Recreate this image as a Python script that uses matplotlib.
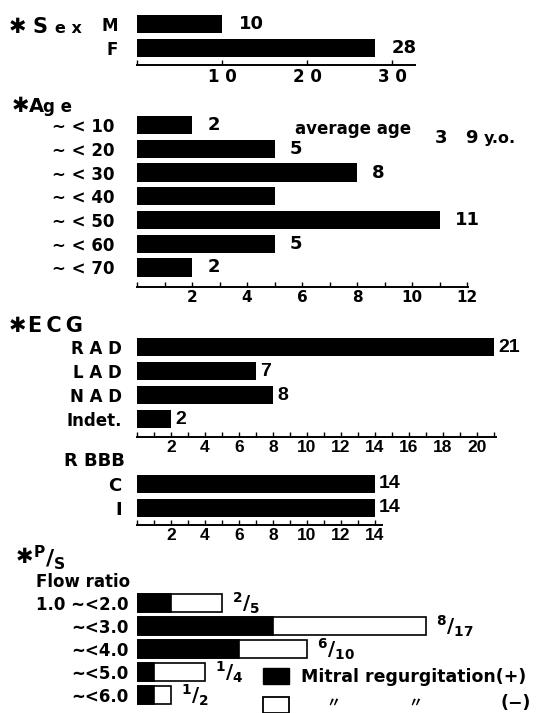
import matplotlib.pyplot as plt
from matplotlib.patches import Patch

plt.rcParams['font.family'] = ['DejaVu Sans', 'Noto Sans CJK JP']
plt.rcParams['font.weight'] = 'bold'

W, H = 536, 713
NARROW = 'Liberation Sans'

# data
sex_cats = ['M', 'F']
sex_counts = [10, 28]

age_cats = ['∼ < 10', '∼ < 20', '∼ < 30', '∼ < 40', '∼ < 50', '∼ < 60', '∼ < 70']
age_counts = [2, 5, 8, 5, 11, 5, 2]
age_shown = ['2', '5', '8', '', '11', '5', '2']

ecg_cats = ['R A D', 'L A D', 'N A D', 'Indet.']
ecg_counts = [21, 7, 8, 2]

rbbb_cats = ['C', 'I']
rbbb_counts = [14, 14]

ps_cats = ['1.0 ~<2.0', '~<3.0', '~<4.0', '~<5.0', '~<6.0']
mr_pos = [2, 8, 6, 1, 1]
ps_total = [5, 17, 10, 4, 2]

fig = plt.figure(figsize=(W / 100, H / 100), dpi=100)


def ftext(x, y, s, **kw):
    # position given in pixels from top-left
    return fig.text(x / W, 1 - y / H, s, **kw)


def panel(c0, n, yb, xmax, unit, step, x0=137):
    top = c0 - 0.6 * step
    ax = fig.add_axes([x0 / W, 1 - yb / H, xmax * unit / W, (yb - top) / H])
    ax.set_xlim(0, xmax)
    ax.set_ylim((yb - c0) / step, -0.6)
    for s in ['top', 'right', 'left']:
        ax.spines[s].set_visible(False)
    ax.spines['bottom'].set_linewidth(1.4)
    ax.tick_params(axis='x', direction='in', length=3.6, width=1, pad=2, labelsize=12)
    ax.tick_params(axis='y', length=0, labelsize=12)
    return ax


def ticks(ax, last, step, start=2, family=None, size=12):
    pos = list(range(0, last + 1))
    labs = [str(p) if (p >= start and p % step == 0) else '' for p in pos]
    ax.set_xticks(pos, labs)
    for t in ax.get_xticklabels():
        t.set_fontsize(size)
        if family:
            t.set_family(family)


def values(ax, vals, texts, dx, size=13, family=None):
    for i, (v, t) in enumerate(zip(vals, texts)):
        kw = {'family': family} if family else {}
        ax.annotate(t, (v, i), xytext=(dx, 0), textcoords='offset points',
                    va='center', fontsize=size, **kw)


# --- Sex
ax = panel(24, 2, 65, 32.7, 8.5, 24)
ax.barh(range(2), sex_counts, height=0.75, color='black')
ax.set_yticks(range(2), sex_cats)
ax.tick_params(axis='y', pad=14, labelsize=12)
ax.set_xticks([0, 10, 20, 30], ['', '1 0', '2 0', '3 0'])
ax.tick_params(axis='x', labelsize=12)
values(ax, sex_counts, [str(v) for v in sex_counts], 12)
ftext(9, 27, '✱', fontsize=15, va='center')
ftext(32, 33, 'S', fontsize=15, va='baseline')
ftext(55, 33, 'e x', fontsize=11.5, va='baseline')

# --- Age
ax = panel(125, 7, 287, 12.05, 27.5, 23.75)
ax.barh(range(7), age_counts, height=0.76, color='black')
ax.set_yticks(range(7), age_cats)
ax.tick_params(axis='y', pad=16, labelsize=12)
ticks(ax, 12, 2, size=11)
values(ax, age_counts, age_shown, 11)
ftext(12, 106, '✱', fontsize=15, va='center')
ftext(29, 112, 'A', fontsize=14, va='baseline')
ftext(43, 112, 'g e', fontsize=12, va='baseline')
ftext(295, 134, 'average age', fontsize=12, va='baseline')
ftext(435, 143, '3', fontsize=13, va='baseline')
ftext(465, 143, '9', fontsize=13, va='baseline')
ftext(484, 143, 'y.o.', fontsize=11.5, va='baseline')

# --- ECG axis
ax = panel(347, 4, 437, 21.1, 17, 24)
ax.barh(range(4), ecg_counts, height=0.79, color='black')
ax.set_yticks(range(4), ecg_cats)
ax.tick_params(axis='y', pad=11, labelsize=12)
ticks(ax, 21, 2, family=NARROW, size=12.5)
values(ax, ecg_counts, [str(v) for v in ecg_counts], 3, family=NARROW, size=14)
ftext(9, 326, '✱', fontsize=15, va='center')
ftext(28, 326, 'E\u2009C\u2009G', fontsize=15, va='center')

# --- RBBB
ax = panel(484, 2, 525, 14.4, 17, 24)
ax.barh(range(2), rbbb_counts, height=0.79, color='black')
ax.set_yticks(range(2), rbbb_cats)
ax.tick_params(axis='y', pad=11, labelsize=13)
ticks(ax, 14, 2, family=NARROW, size=12.5)
values(ax, rbbb_counts, [str(v) for v in rbbb_counts], 3, family=NARROW, size=14)
ftext(64, 461, 'R BBB', fontsize=13, va='center')

# --- P/S flow ratio
ax = panel(603, 5, 709, 20, 17, 23)
ax.spines['bottom'].set_visible(False)
ax.set_xticks([])
ax.barh(range(5), ps_total, height=0.74, color='white', edgecolor='black', linewidth=1.2)
ax.barh(range(5), mr_pos, height=0.74, color='black', edgecolor='black', linewidth=1.2)
ax.set_yticks(range(5), ps_cats)
ax.tick_params(axis='y', pad=6, labelsize=12)
values(ax, ps_total, [r'$\mathregular{^{%d}/_{%d}}$' % (p, t) for p, t in zip(mr_pos, ps_total)],
       7, size=14)
ftext(16, 557, '✱', fontsize=15, va='center')
ftext(33, 558, r'$\mathregular{^{P}/_{S}}$', fontsize=16, va='center')
ftext(36, 582, 'Flow ratio', fontsize=12, va='center')

ax.legend(handles=[Patch(facecolor='black', edgecolor='black'),
                   Patch(facecolor='white', edgecolor='black', linewidth=1.3)],
          labels=['Mitral regurgitation(+)', ' '],
          loc='upper left', bbox_to_anchor=(263 / W, 1 - 668 / H),
          bbox_transform=fig.transFigure, frameon=False, fontsize=12.5,
          handlelength=1.5, handleheight=1.0, handletextpad=0.7,
          labelspacing=0.62, borderpad=0, borderaxespad=0)
ftext(326, 704, '〃', fontsize=10, va='center')
ftext(408, 704, '〃', fontsize=10, va='center')
ftext(501, 703, '(−)', fontsize=12.5, va='center')

fig.savefig('out.png', dpi=100)
